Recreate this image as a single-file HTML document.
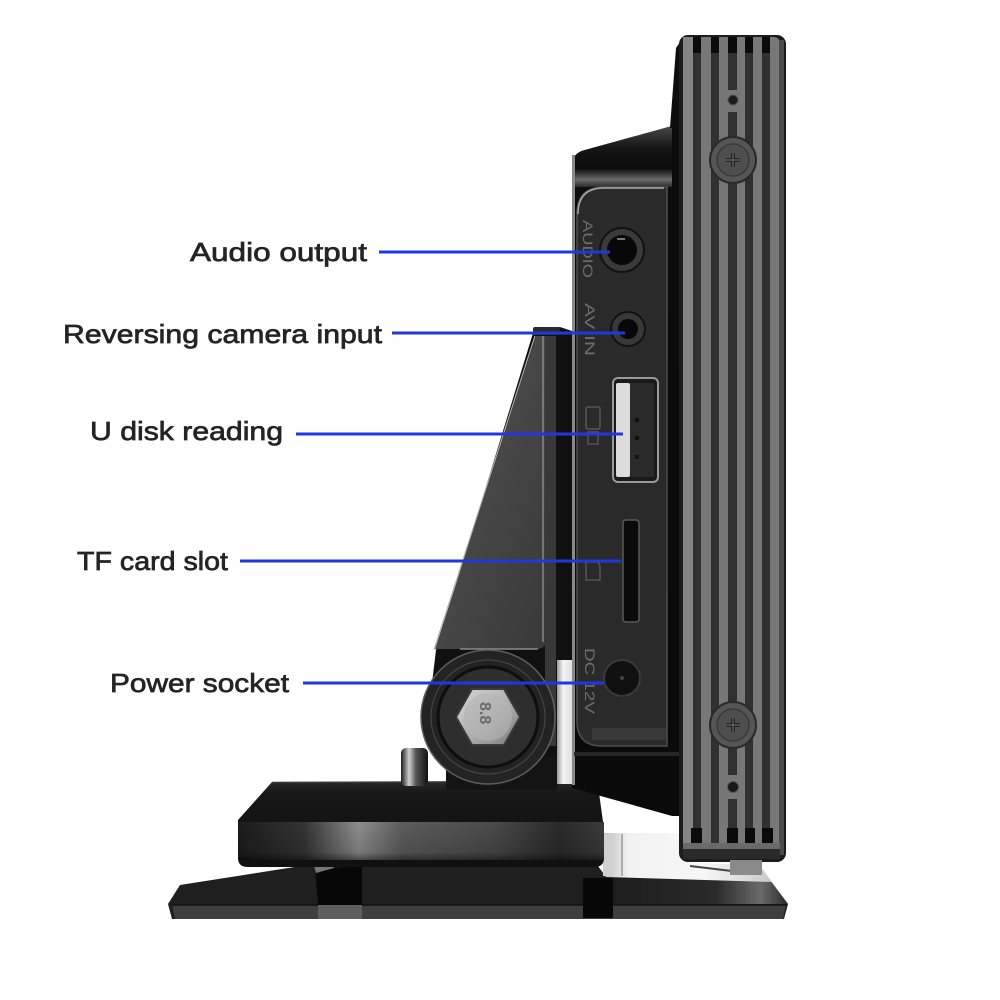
<!DOCTYPE html>
<html><head><meta charset="utf-8"><style>
html,body{margin:0;padding:0;background:#fff;}
svg{display:block;}
.lbl{font-family:"Liberation Sans",Arial,sans-serif;font-weight:normal;font-size:26px;fill:#242424;stroke:#242424;stroke-width:0.7px;}
.eng{font-family:"Liberation Sans",Arial,sans-serif;font-size:14px;fill:#6e6e6e;}
</style></head><body>
<svg width="1000" height="1000" viewBox="0 0 1000 1000" xmlns="http://www.w3.org/2000/svg">
<defs>
<linearGradient id="band" x1="0" y1="0" x2="1" y2="0">
<stop offset="0" stop-color="#1c1c1c"/><stop offset="0.18" stop-color="#343434"/>
<stop offset="0.33" stop-color="#8e8e8e"/><stop offset="0.45" stop-color="#5c5c5c"/>
<stop offset="0.7" stop-color="#4a4a4a"/><stop offset="0.88" stop-color="#2a2a2a"/>
<stop offset="1" stop-color="#3c3c3c"/></linearGradient>
<linearGradient id="bandV" x1="0" y1="0" x2="0" y2="1">
<stop offset="0" stop-color="#000" stop-opacity="0"/><stop offset="0.8" stop-color="#000" stop-opacity="0.15"/><stop offset="1" stop-color="#000" stop-opacity="0.5"/></linearGradient>
<linearGradient id="dome" x1="0" y1="0" x2="0" y2="1">
<stop offset="0" stop-color="#2a2a2a"/><stop offset="0.15" stop-color="#161616"/><stop offset="1" stop-color="#101010"/></linearGradient>
<linearGradient id="knob" x1="0" y1="0" x2="1" y2="0">
<stop offset="0" stop-color="#1a1a1a"/><stop offset="0.3" stop-color="#cfcfcf"/><stop offset="0.55" stop-color="#555"/><stop offset="1" stop-color="#111"/></linearGradient>
<linearGradient id="face" x1="0" y1="0" x2="1" y2="1">
<stop offset="0" stop-color="#555"/><stop offset="1" stop-color="#383838"/></linearGradient>
<linearGradient id="bolt" x1="0" y1="0" x2="1" y2="1">
<stop offset="0" stop-color="#d8d8d8"/><stop offset="0.6" stop-color="#a8a8a8"/><stop offset="1" stop-color="#777"/></linearGradient>
<linearGradient id="bodyG" x1="0" y1="0" x2="0" y2="1">
<stop offset="0" stop-color="#0c0c0c"/><stop offset="1" stop-color="#0a0a0a"/></linearGradient>
<linearGradient id="bodyTop" x1="0" y1="0" x2="0" y2="1">
<stop offset="0" stop-color="#4a4a4a"/><stop offset="0.35" stop-color="#151515"/><stop offset="0.7" stop-color="#0c0c0c"/><stop offset="0.88" stop-color="#6a6a6a"/><stop offset="1" stop-color="#2a2a2a"/></linearGradient>
<linearGradient id="white" x1="0" y1="0" x2="1" y2="0">
<stop offset="0" stop-color="#bdbdbd"/><stop offset="0.15" stop-color="#f2f2f2"/><stop offset="0.6" stop-color="#f7f7f7"/><stop offset="1" stop-color="#c8c8c8"/></linearGradient>
<linearGradient id="gap" x1="0" y1="0" x2="1" y2="0">
<stop offset="0" stop-color="#9a9a9a"/><stop offset="0.4" stop-color="#f4f4f4"/><stop offset="1" stop-color="#e0e0e0"/></linearGradient>
<linearGradient id="plateR" x1="0" y1="0" x2="1" y2="0">
<stop offset="0" stop-color="#1c1c1c"/><stop offset="0.6" stop-color="#2a2a2a"/><stop offset="0.85" stop-color="#6a6a6a"/><stop offset="1" stop-color="#2a2a2a"/></linearGradient>
</defs>

<!-- ===== BASE PLATE ===== -->
<path d="M168,904 L180,885 L320,863 L598,866 L606,877 L770,880 L788,904 L784,919 L172,919 Z" fill="#1f1f1f"/>
<path d="M606,877 L770,880 L788,904 L613,904 Z" fill="url(#plateR)"/>
<path d="M172,905 L786,905 L783,919 L175,919 Z" fill="#3e3e3e"/>
<line x1="172" y1="905" x2="786" y2="905" stroke="#111" stroke-width="1.5"/>
<polygon points="315,869 362,866 362,905 318,905" fill="#070707"/>
<rect x="318" y="905" width="44" height="14" fill="#5e5e5e"/>
<polygon points="313,862 332,858 334,868 316,873" fill="#777"/>
<rect x="583" y="878" width="30" height="40" fill="#070707"/>
<polygon points="603,833 682,833 682,862 760,866 772,882 606,877" fill="url(#white)"/>
<rect x="603" y="834" width="8" height="42" fill="#d0d0d0"/>
<line x1="622" y1="834" x2="622" y2="876" stroke="#9a9a9a" stroke-width="1.5"/>
<line x1="690" y1="866" x2="740" y2="872" stroke="#444" stroke-width="2"/>

<!-- ===== DOME ===== -->
<path d="M272,782 L588,781 Q598,782 600,800 L603,822 L604,858 Q604,867 594,867 L248,867 Q238,867 238,858 L238,820 Z" fill="url(#dome)"/>
<rect x="238" y="822" width="366" height="38" fill="url(#band)"/>
<rect x="238" y="822" width="366" height="38" fill="url(#bandV)"/>
<line x1="272" y1="782.5" x2="588" y2="781.5" stroke="#3a3a3a" stroke-width="1.5"/>

<rect x="401" y="748" width="27" height="38" rx="5" fill="url(#knob)"/>
<rect x="446" y="742" width="112" height="48" rx="4" fill="#141414"/>

<!-- ===== MIDDLE BODY ===== -->
<path d="M572,166 Q572,153 585,150 L672,126 L686,126 L686,816 L672,816 L572,788 Z" fill="url(#bodyG)"/>
<path d="M572,166 Q572,153 585,150 L672,126 L672,187 L572,187 Z" fill="url(#bodyTop)"/>
<rect x="572" y="155" width="3" height="630" fill="#8a8a8a"/>
<path d="M577,214 Q577,187 604,187 L667,187 L667,746 L602,746 Q577,746 577,721 Z" fill="#2a2a2a" stroke="#4e4e4e" stroke-width="1.5"/>
<path d="M578,214 Q578,188 604,188 L664,188" fill="none" stroke="#a8a8a8" stroke-width="1.5"/>
<rect x="592" y="728" width="74" height="12" fill="#3e3e3e" opacity="0.7"/>
<rect x="574" y="752" width="106" height="4" fill="#262626"/>

<circle cx="622" cy="250" r="22" fill="#3a3a3a" stroke="#111" stroke-width="2"/>
<circle cx="622" cy="250" r="15" fill="#080808"/>
<rect x="617" y="238" width="8" height="2" fill="#777"/>
<circle cx="628" cy="329" r="17" fill="#383838" stroke="#111" stroke-width="2"/>
<circle cx="628" cy="329" r="10" fill="#080808"/>
<rect x="613" y="378" width="45" height="104" rx="5" fill="#1a1a1a" stroke="#9a9a9a" stroke-width="2"/>
<rect x="616" y="383" width="14" height="94" rx="2" fill="#dcdcdc"/>
<rect x="630" y="383" width="24" height="94" fill="#2a2a2a"/>
<rect x="635" y="418" width="4" height="4" fill="#111"/>
<rect x="635" y="436" width="4" height="4" fill="#111"/>
<rect x="635" y="455" width="4" height="4" fill="#111"/>
<rect x="586" y="407" width="14" height="22" rx="2" fill="none" stroke="#555" stroke-width="1.5"/>
<rect x="588" y="432" width="10" height="12" fill="none" stroke="#555" stroke-width="1.5"/>
<rect x="623" y="520" width="16" height="102" rx="3" fill="#0a0a0a" stroke="#5a5a5a" stroke-width="1.5"/>
<path d="M586,562 L598,562 L600,566 L600,580 L586,580 Z" fill="none" stroke="#555" stroke-width="1.5"/>
<circle cx="622" cy="678" r="18" fill="#101010" stroke="#3a3a3a" stroke-width="2"/>
<circle cx="622" cy="678" r="2" fill="#444"/>
<text class="eng" transform="translate(583,220) rotate(90)" textLength="58" lengthAdjust="spacingAndGlyphs">AUDIO</text>
<text class="eng" transform="translate(585,303) rotate(90)" textLength="53" lengthAdjust="spacingAndGlyphs">AV IN</text>
<text class="eng" transform="translate(585,648) rotate(90)" textLength="66" lengthAdjust="spacingAndGlyphs">DC 12V</text>

<!-- ===== ARM ===== -->
<polygon points="533,333 560,327 572,331 572,757 540,757 430,700 436,650" fill="#101010"/>
<rect x="557" y="660" width="15" height="124" fill="url(#gap)"/>
<path d="M536,336 L547,336 L547,638 Q547,649 536,649 L435,649 Z" fill="url(#face)"/>
<line x1="535" y1="336" x2="434" y2="650" stroke="#b0b0b0" stroke-width="1.2"/>
<line x1="543" y1="336" x2="543" y2="642" stroke="#9a9a9a" stroke-width="1.2"/>
<rect x="545" y="336" width="11" height="410" fill="#383838"/>
<rect x="533" y="327" width="27" height="8" rx="2" fill="#2a2a2a"/>
<line x1="460" y1="649" x2="538" y2="649" stroke="#8a8a8a" stroke-width="1.5"/>

<circle cx="488" cy="717" r="67" fill="#232323" stroke="#5e5e5e" stroke-width="1.5"/>
<circle cx="488" cy="717" r="57" fill="none" stroke="#4a4a4a" stroke-width="1"/>
<circle cx="488" cy="717" r="50" fill="#2e2e2e" stroke="#0e0e0e" stroke-width="3"/>
<polygon points="520,717 504,745 472,745 456,717 472,689 504,689" fill="url(#bolt)" stroke="#3a3a3a" stroke-width="2"/>
<circle cx="488" cy="717" r="24" fill="#b5b5b5" opacity="0.6"/>
<text transform="translate(480,702) rotate(90)" font-family="Liberation Sans,Arial,sans-serif" font-size="16" font-weight="bold" fill="#6a6a6a">8.8</text>

<!-- ===== HEATSINK PANEL ===== -->
<polygon points="670,128 676,48 684,36 692,36 692,128" fill="#0e0e0e"/>
<rect x="679" y="35" width="107" height="827" rx="9" fill="#1c1c1c"/>
<rect x="683" y="37" width="97" height="821" rx="6" fill="#777"/>
<rect x="683" y="37" width="10" height="821" fill="#858585"/>
<rect x="693" y="37" width="8" height="821" fill="#303030"/>
<rect x="711" y="37" width="8" height="821" fill="#303030"/>
<rect x="728" y="37" width="9" height="821" fill="#303030"/>
<rect x="745" y="37" width="8" height="821" fill="#303030"/>
<rect x="762" y="37" width="8" height="821" fill="#303030"/>
<rect x="779" y="40" width="5" height="815" fill="#4a4a4a"/>
<rect x="693" y="37" width="8" height="16" fill="#0a0a0a"/>
<rect x="711" y="37" width="8" height="16" fill="#0a0a0a"/>
<rect x="728" y="37" width="9" height="16" fill="#0a0a0a"/>
<rect x="745" y="37" width="8" height="16" fill="#0a0a0a"/>
<rect x="762" y="37" width="8" height="16" fill="#0a0a0a"/>
<rect x="691" y="828" width="11" height="15" fill="#0a0a0a"/>
<rect x="727" y="828" width="11" height="15" fill="#0a0a0a"/>
<rect x="745" y="828" width="10" height="15" fill="#0a0a0a"/>
<rect x="762" y="828" width="11" height="15" fill="#0a0a0a"/>
<rect x="683" y="843" width="97" height="6" fill="#6a6a6a"/>
<rect x="683" y="849" width="97" height="10" fill="#2a2a2a"/>
<rect x="730" y="860" width="32" height="15" fill="#8a8a8a"/>
<rect x="727" y="90" width="11" height="22" fill="#777"/>
<circle cx="733" cy="100" r="5" fill="#1a1a1a" stroke="#555" stroke-width="1"/>
<rect x="727" y="775" width="11" height="24" fill="#777"/>
<circle cx="733" cy="787" r="5.5" fill="#1a1a1a" stroke="#555" stroke-width="1"/>
<g>
<circle cx="733" cy="160" r="23" fill="#555" stroke="#2a2a2a" stroke-width="2"/>
<circle cx="733" cy="160" r="16" fill="#4e4e4e" stroke="#3a3a3a" stroke-width="1.5"/>
<path d="M726,160 L740,160 M733,153 L733,167" stroke="#1a1a1a" stroke-width="3.5"/>
<path d="M726,160 L740,160 M733,153 L733,167" stroke="#6a6a6a" stroke-width="1.2"/>
</g>
<g>
<circle cx="733" cy="725" r="23" fill="#555" stroke="#2a2a2a" stroke-width="2"/>
<circle cx="733" cy="725" r="16" fill="#4e4e4e" stroke="#3a3a3a" stroke-width="1.5"/>
<path d="M726,725 L740,725 M733,718 L733,732" stroke="#1a1a1a" stroke-width="3.5"/>
<path d="M726,725 L740,725 M733,718 L733,732" stroke="#6a6a6a" stroke-width="1.2"/>
</g>

<!-- ===== CALLOUT LINES ===== -->
<g stroke="#2236de" stroke-width="3">
<line x1="379" y1="252" x2="610" y2="252"/>
<line x1="392" y1="333" x2="625" y2="333"/>
<line x1="296" y1="434" x2="623" y2="434"/>
<line x1="240" y1="561" x2="621" y2="561"/>
<line x1="303" y1="683" x2="604" y2="683"/>
</g>

<!-- ===== LABELS ===== -->
<text class="lbl" x="190" y="261" textLength="177" lengthAdjust="spacingAndGlyphs">Audio output</text>
<text class="lbl" x="63" y="343" textLength="319" lengthAdjust="spacingAndGlyphs">Reversing camera input</text>
<text class="lbl" x="90" y="440" textLength="193" lengthAdjust="spacingAndGlyphs">U disk reading</text>
<text class="lbl" x="77" y="570" textLength="151" lengthAdjust="spacingAndGlyphs">TF card slot</text>
<text class="lbl" x="110" y="692" textLength="179" lengthAdjust="spacingAndGlyphs">Power socket</text>
</svg>
</body></html>
